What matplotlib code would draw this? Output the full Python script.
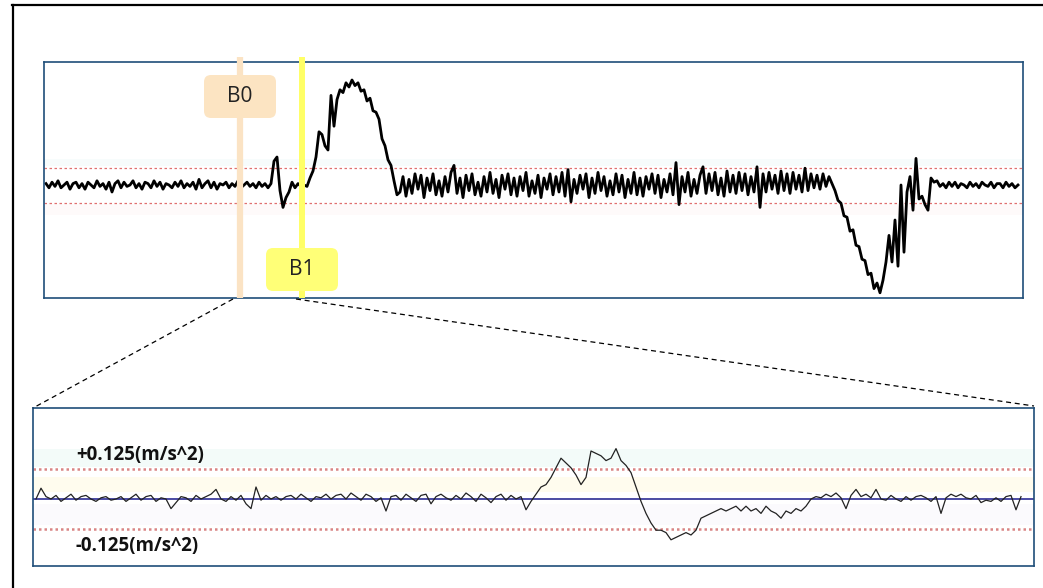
import numpy as np
import matplotlib
matplotlib.use('Agg')
import matplotlib.pyplot as plt
from matplotlib.patches import FancyBboxPatch
from matplotlib.lines import Line2D
import matplotlib.transforms as mtransforms

# acceleration (m/s^2), top trace, one sample every 3 px
top_idle = [0.01, -0.02, 0.02, -0.01, 0.03, -0.02, 0.00, 0.02, -0.03, 0.01,
            0.02, -0.02, 0.01, -0.03, 0.02, 0.00, -0.02, 0.03, -0.01, 0.01,
            -0.03, 0.02, -0.05, 0.01, 0.03, -0.02, 0.02, -0.01, 0.00, 0.03,
            -0.02, 0.01, -0.03, 0.02, 0.01, -0.02, 0.03, -0.01, 0.02, -0.03,
            0.01, 0.00, -0.02, 0.02, -0.01, 0.03, -0.02, 0.01, -0.01, 0.02,
            -0.03, 0.04, -0.02, 0.01, 0.03, -0.02, 0.02, -0.03, 0.01, 0.00,
            0.02, -0.02, 0.01, -0.01, 0.03, -0.02, 0.00, 0.02, -0.01, 0.01,
            -0.02, 0.02, -0.01, 0.01, -0.02, 0.01]
top_b0b1 = [0.17, 0.20, -0.04, -0.16, -0.09, -0.05, 0.02, -0.02, 0.01, -0.01, 0.00]
top_peak = [-0.01, 0.05, 0.10, 0.20, 0.38, 0.36, 0.28, 0.25, 0.64, 0.42,
            0.61, 0.68, 0.66, 0.73, 0.70, 0.75, 0.71, 0.73, 0.67, 0.68,
            0.60, 0.62, 0.53, 0.52, 0.47, 0.33, 0.28, 0.18, 0.14, 0.03,
            -0.07]
top_cruise = [-0.05, 0.06, -0.08, 0.04, -0.06, 0.08, -0.03, 0.07, -0.09, 0.05,
              -0.04, 0.08, -0.07, 0.03, -0.08, 0.06, -0.05, 0.09, 0.14, -0.06,
              0.05, -0.09, 0.07, -0.04, 0.08, -0.07, 0.02, -0.08, 0.06, -0.05,
              0.09, -0.06, 0.04, -0.09, 0.07, -0.03, 0.08, -0.07, 0.05, -0.08,
              0.06, -0.04, 0.09, -0.08, 0.03, -0.06, 0.07, -0.09, 0.05, -0.03,
              0.08, -0.07, 0.06, -0.05, 0.09, -0.08, 0.11, -0.12, 0.04, -0.06,
              0.07, -0.03, 0.08, -0.09, 0.05, -0.06, 0.09, -0.04, 0.06, -0.08,
              0.03, -0.07, 0.08, -0.05, 0.07, -0.09, 0.04, -0.06, 0.09, -0.07,
              0.05, -0.08, 0.06, -0.03, 0.08, -0.06, 0.07, -0.09, 0.04, -0.05,
              0.08, -0.07, 0.16, -0.14, 0.06, -0.05, 0.09, -0.08, 0.04, -0.06,
              0.07, 0.13, -0.06, 0.08, -0.04, 0.09, -0.07, 0.05, -0.08, 0.10,
              -0.05, 0.07, -0.06, 0.09, -0.04, 0.08, -0.07, 0.06, -0.05, 0.13,
              -0.16, 0.08, -0.05, 0.09, -0.03, 0.07, -0.06, 0.10, -0.04, 0.08,
              -0.06, 0.09, -0.03, 0.07, -0.05, 0.12, -0.04, 0.08, -0.02, 0.07,
              -0.03, 0.08, -0.01, 0.06, 0.01]
top_dip = [-0.04, -0.11, -0.13, -0.22, -0.23, -0.33, -0.32, -0.43, -0.44, -0.53,
           -0.54, -0.64, -0.63, -0.74, -0.70, -0.77, -0.68, -0.55, -0.36, -0.55,
           -0.25, -0.58, 0.00, -0.48, -0.05, 0.06, -0.18, 0.19, -0.10, -0.08,
           -0.14, -0.18, 0.05, 0.02, 0.03, -0.01]
top_end = [0.01, -0.02, 0.02, -0.01, 0.02, -0.02, 0.01, 0.00, -0.02, 0.02,
           -0.01, 0.01, -0.02, 0.02, 0.00, -0.01, 0.02, -0.02, 0.01, 0.01,
           -0.02, 0.02, -0.01, 0.01, -0.02, 0.00]

# zoomed trace between B0 and B1, one sample every 5 px
bot_idle = [0.00, 0.045, 0.01, 0.00, 0.015, -0.01, 0.005, 0.02, -0.005, 0.01,
            0.015, 0.00, -0.01, 0.005, 0.01, -0.005, 0.00, 0.01, -0.01, 0.005,
            0.02, -0.005, 0.01, 0.015, -0.01, 0.005, 0.00, -0.04, -0.015, 0.01,
            0.005, -0.01, 0.015, 0.00, 0.01, 0.02, 0.04, 0.00, -0.01, 0.01,
            -0.005, 0.015, -0.02, -0.04, 0.05, -0.005, 0.015, 0.00, 0.01, -0.005,
            0.01, 0.015, 0.00, 0.02, 0.005, -0.01, 0.01, 0.005, 0.02, 0.00,
            0.015, 0.02, 0.00, 0.025, 0.01, -0.005, 0.02, 0.01, -0.01, 0.005,
            -0.05, 0.01, 0.015, -0.005, 0.02, 0.005, -0.01, 0.015, 0.02, -0.02,
            0.01, 0.02, 0.005, -0.005, 0.015, 0.00, 0.025, 0.01, -0.01, 0.02,
            0.005, -0.015, 0.01, 0.02, -0.005, 0.015, 0.00, 0.01, -0.045]
bot_event = [-0.01, 0.02, 0.05, 0.06, 0.09, 0.13, 0.17, 0.15, 0.13, 0.10,
             0.06, 0.09, 0.20, 0.19, 0.18, 0.16, 0.17, 0.21, 0.16, 0.14,
             0.11, 0.05, -0.01, -0.06, -0.10, -0.13, -0.13, -0.14, -0.17, -0.16,
             -0.15, -0.14, -0.15, -0.13, -0.08, -0.07, -0.06, -0.05, -0.04, -0.05,
             -0.04, -0.03, -0.05, -0.03, -0.05, -0.04, -0.06, -0.03, -0.05, -0.06,
             -0.08, -0.05, -0.06, -0.04, -0.05, -0.03, 0.00]
bot_settle = [0.01, 0.005, 0.02, 0.01, 0.025, 0.005, -0.04, 0.015, 0.04, 0.01,
              0.02, 0.005, 0.04, 0.00, -0.005, 0.015, 0.00, -0.01, 0.01, -0.005,
              0.01, 0.015, 0.005, -0.01, 0.01, -0.06, 0.005, 0.02, 0.01, 0.02,
              0.005, 0.00, 0.015, -0.015, -0.005, -0.01, 0.005, -0.01, 0.01, 0.015,
              -0.045, 0.01]

limit = 0.125
b0_idx, b1_idx = 64.7, 85.3
labels = ['B0', 'B1']

top_acc = np.array(top_idle + top_b0b1 + top_peak + top_cruise + top_dip + top_end)
bot_acc = np.array(bot_idle + bot_event + bot_settle)

W, H = 1043, 588
def box(x0, y0, x1, y1):
    return [x0 / W, 1 - y1 / H, (x1 - x0) / W, (y1 - y0) / H]

fig = plt.figure(figsize=(W / 100, H / 100), dpi=100)
fig.patch.set_facecolor('white')
px = mtransforms.IdentityTransform()
frame_col = '#1f4e79'

# top panel
k = limit / 17.5
ax = fig.add_axes(box(44, 62, 1023, 298))
ax.set_xlim((44 - 46) / 3, (1023 - 46) / 3)
ax.set_ylim(-(298 - 185) * k, (185 - 62) * k)
ax.axhspan(limit + 0.01, limit + 0.06, color='#f7fcfc', lw=0, zorder=0)
ax.axhspan(-limit - 0.09, -limit - 0.01, color='#fefafa', lw=0, zorder=0)
for y in (limit, -limit):
    ax.axhline(y, color='#e07070', lw=0.9, ls=(0, (2, 2)), zorder=1)
ax.plot(np.arange(len(top_acc)), top_acc, color='black', lw=2.0, zorder=2)
ax.set_xticks([])
ax.set_yticks([])
for s in ax.spines.values():
    s.set_color(frame_col)
    s.set_linewidth(1.2)

y_top = (185 - 57) * k
ylo = ax.get_ylim()[0]
ax.plot([b0_idx, b0_idx], [ylo, y_top], color='#fbe3c4', lw=4.5,
        solid_capstyle='butt', clip_on=False, zorder=3)
ax.plot([b1_idx, b1_idx], [ylo, y_top], color='#ffff66', lw=4.3,
        solid_capstyle='butt', clip_on=False, zorder=3)

# marker labels
r = 7
for (x0, y0, x1, y1), fc, lab in [((204, 75, 276, 118), '#fce4c2', labels[0]),
                                  ((266, 248, 338, 291), '#ffff77', labels[1])]:
    p = FancyBboxPatch((x0 + r, H - y1 + r), x1 - x0 - 2 * r, y1 - y0 - 2 * r,
                       boxstyle=f'round,pad={r}', fc=fc, ec='none', transform=px)
    fig.add_artist(p)
    fig.text((x0 + x1) / 2 / W, 1 - (y0 + y1) / 2 / H, lab, ha='center', va='center',
             fontsize=15, family='Open Sans', color='#222222')

# connector lines
fig.add_artist(Line2D([233, 33], [H - 299, H - 408], color='black', lw=0.9,
                      ls=(0, (4, 3)), transform=px))
fig.add_artist(Line2D([296, 1034], [H - 299, H - 406], color='black', lw=0.9,
                      ls=(0, (4, 3)), transform=px))

# bottom panel
kb = limit / 30
bx = fig.add_axes(box(33, 408, 1034, 566))
bx.set_xlim((33 - 36) / 5, (1034 - 36) / 5)
bx.set_ylim(-(566 - 499) * kb, (499 - 408) * kb)
bx.axhspan(0.135, 0.21, color='#f3fbf9', lw=0, zorder=0)
bx.axhspan(0.03, 0.09, color='#fffcee', lw=0, zorder=0)
bx.axhspan(-0.11, -0.02, color='#fbfafd', lw=0, zorder=0)
for y in (limit, -limit):
    bx.axhline(y, color='#d98585', lw=1.8, ls=(0, (1, 1.2)), zorder=1)
bx.axhline(0, color='#4b4ba3', lw=1.4, zorder=1)
bx.plot(np.arange(len(bot_acc)), bot_acc, color='#222222', lw=0.9, zorder=2)
bx.set_xticks([])
bx.set_yticks([])
for s in bx.spines.values():
    s.set_color(frame_col)
    s.set_linewidth(1.2)

fig.text(76 / W, 1 - 455 / H, '+0.125(m/s^2)', ha='left', va='center',
         fontsize=13.5, fontweight='bold', family='Open Sans', color='#111111')
fig.text(76 / W, 1 - 546 / H, '-0.125(m/s^2)', ha='left', va='center',
         fontsize=13.5, fontweight='bold', family='Open Sans', color='#111111')

# outer frame (left and top edges)
fig.add_artist(Line2D([12.5, 12.5], [0, H - 5], color='black', lw=1.6, transform=px))
fig.add_artist(Line2D([12, W], [H - 5, H - 5], color='black', lw=1.6, transform=px))

fig.savefig('out.png', dpi=100)
